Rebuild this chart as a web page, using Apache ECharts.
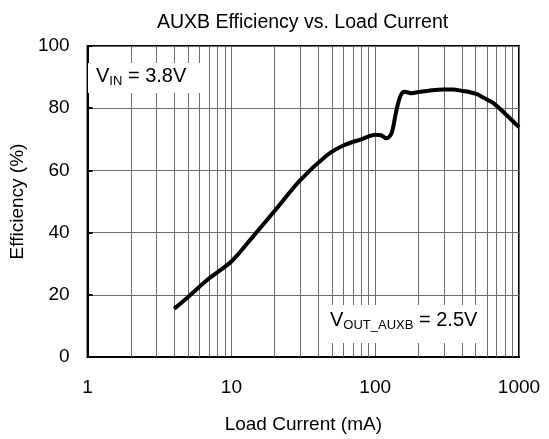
<!DOCTYPE html>
<html>
<head>
<meta charset="utf-8">
<script src="https://cdn.jsdelivr.net/npm/echarts@6/dist/echarts.min.js"></script>
<style>
  html, body { margin: 0; padding: 0; background: #fff; }
  #chart { width: 549px; height: 439px; }
</style>
</head>
<body>
<div id="chart"></div>
<script>
// load current (mA) and efficiency (%)
var loadCurrent = [4, 5, 7, 10, 14.4, 20, 30, 46, 60, 80, 100, 110, 120, 130, 140, 150, 160, 180, 200, 250, 300, 350, 400, 450, 506, 560, 660, 815, 1000];
var efficiency = [15.5, 19.3, 25.3, 30.7, 39.2, 47, 56.8, 64.8, 68, 70, 71.5, 71.3, 70.3, 72, 79, 84, 85.3, 84.8, 85.2, 85.8, 86, 86, 85.6, 85.2, 84.6, 83.5, 81.7, 77.9, 73.9];
// minor log grid lines
var minorTicks = [2, 3, 4, 5, 6, 7, 8, 9, 20, 30, 40, 50, 60, 70, 80, 90, 200, 300, 400, 500, 600, 700, 800, 900];
var yTicks = [0, 20, 40, 60, 80, 100];

var font = 'Liberation Sans, Arial, sans-serif';
var gridColor = '#6a6a6a';

var chart = echarts.init(document.getElementById('chart'));

var option = {
  animation: false,
  backgroundColor: '#fff',
  title: {
    text: 'AUXB Efficiency vs. Load Current',
    left: 152,
    top: 8,
    textStyle: { fontFamily: font, fontSize: 19.5, fontWeight: 'normal', color: '#000' }
  },
  grid: {
    left: 86, right: 30, top: 46, bottom: 80,
    show: true, borderColor: '#000', borderWidth: 2
  },
  xAxis: {
    type: 'log',
    logBase: 10,
    min: 1,
    max: 1000,
    name: 'Load Current (mA)',
    nameLocation: 'middle',
    nameGap: 58,
    nameTextStyle: { fontFamily: font, fontSize: 19, color: '#000' },
    axisLine: { lineStyle: { color: '#000', width: 2 } },
    axisTick: { show: false },
    axisLabel: {
      fontFamily: font, fontSize: 19, color: '#000', margin: 21,
      formatter: function (v) { return String(v); }
    },
    splitLine: { show: true, lineStyle: { color: gridColor, width: 1 } }
  },
  yAxis: {
    type: 'value',
    min: yTicks[0],
    max: yTicks[yTicks.length - 1],
    interval: 20,
    name: 'Efficiency (%)',
    nameLocation: 'middle',
    nameGap: 53,
    nameTextStyle: { fontFamily: font, fontSize: 19, color: '#000' },
    axisLine: { show: true, lineStyle: { color: '#000', width: 2 } },
    axisTick: { show: true, inside: true, length: 5, lineStyle: { color: '#000', width: 2 } },
    axisLabel: { fontFamily: font, fontSize: 19, color: '#000', margin: 18 },
    splitLine: { show: true, lineStyle: { color: gridColor, width: 1 } }
  },
  series: [
    {
      // minor grid, drawn through the x scale
      type: 'line',
      data: [],
      z: 1,
      silent: true,
      markLine: {
        silent: true,
        symbol: 'none',
        label: { show: false },
        lineStyle: { color: gridColor, width: 1, type: 'solid' },
        data: minorTicks.map(function (v) { return { xAxis: v }; })
      }
    },
    {
      type: 'line',
      z: 5,
      data: loadCurrent.map(function (x, i) { return [x, efficiency[i]]; }),
      smooth: 0.3,
      symbol: 'none',
      lineStyle: { color: '#000', width: 4 }
    }
  ],
  graphic: [
    { type: 'rect', z: 50, shape: { x: 88, y: 63, width: 114, height: 30 }, style: { fill: '#fff' } },
    {
      type: 'text', z: 51, x: 96, y: 64,
      style: {
        text: '{m|V}{s|IN}{m| = 3.8V}',
        verticalAlign: 'top',
        fill: '#000',
        rich: {
          m: { fontFamily: font, fontSize: 20, lineHeight: 24, fill: '#000' },
          s: { fontFamily: font, fontSize: 13, lineHeight: 13, verticalAlign: 'bottom', fill: '#000' }
        }
      }
    },
    { type: 'rect', z: 50, shape: { x: 323, y: 305, width: 162, height: 38 }, style: { fill: '#fff' } },
    {
      type: 'text', z: 51, x: 330, y: 308,
      style: {
        text: '{m|V}{s|OUT_AUXB}{m| = 2.5V}',
        verticalAlign: 'top',
        fill: '#000',
        rich: {
          m: { fontFamily: font, fontSize: 20, lineHeight: 24, fill: '#000' },
          s: { fontFamily: font, fontSize: 13, lineHeight: 13, verticalAlign: 'bottom', fill: '#000' }
        }
      }
    }
  ]
};

chart.setOption(option);
</script>
</body>
</html>
